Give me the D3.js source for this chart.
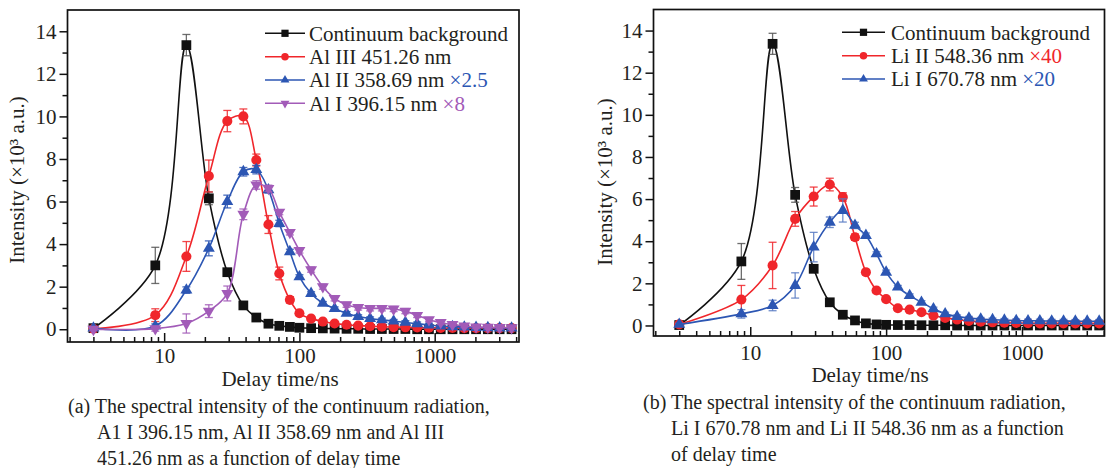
<!DOCTYPE html>
<html>
<head>
<meta charset="utf-8">
<script src="https://cdn.jsdelivr.net/npm/d3@7"></script>
<style>
  body { margin: 0; background: #fff; }
  svg text { font-family: "Liberation Serif", "Times New Roman", serif; fill: #231f20; }
</style>
</head>
<body>
<svg id="chart" width="1106" height="468"></svg>
<script>
// delay times (ns), same for both panels
var delayTimes = [3, 8.6, 14.6, 21.4, 29.3, 38.5, 48, 59, 71, 85, 100, 122, 149, 182, 223, 272, 333, 407, 497, 607, 742, 907, 1108, 1354, 1655, 2022, 2471, 3020, 3700];

// panel (a) : Al target, intensity x10^3 a.u.
var aContinuum    = [0.05, 3.0, 13.35, 6.15, 2.68, 1.12, 0.55, 0.26, 0.16, 0.11, 0.07, 0.05, 0.04, 0.03, 0.02, 0.02, 0.01, 0.01, 0.01, 0.01, 0, 0, 0, 0, 0, 0, 0, 0, 0];
var aContinuumErr = [0.05, 0.85, 0.5, 0.3, 0.12, 0.08, 0.05, 0.04, 0.03, 0.03, 0.02, 0.02, 0.02, 0.02, 0.02, 0.02, 0.02, 0.02, 0.02, 0.02, 0.02, 0.02, 0.02, 0.02, 0.02, 0.02, 0.02, 0.02, 0.02];
var aAl3          = [0.02, 0.66, 3.42, 7.2, 9.78, 10.0, 7.95, 4.92, 2.62, 1.38, 0.75, 0.5, 0.36, 0.27, 0.21, 0.17, 0.14, 0.12, 0.1, 0.09, 0.08, 0.07, 0.06, 0.06, 0.05, 0.05, 0.05, 0.05, 0.05];
var aAl3Err       = [0.05, 0.3, 0.7, 0.75, 0.5, 0.35, 0.28, 0.42, 0.3, 0.15, 0.1, 0.08, 0.07, 0.06, 0.06, 0.06, 0.06, 0.06, 0.06, 0.06, 0.06, 0.06, 0.06, 0.06, 0.06, 0.06, 0.06, 0.06, 0.06];
var aAl2          = [0.05, 0.15, 1.84, 3.8, 6.0, 7.4, 7.5, 6.55, 4.97, 3.64, 2.46, 1.68, 1.22, 0.97, 0.75, 0.6, 0.5, 0.44, 0.38, 0.32, 0.26, 0.2, 0.15, 0.12, 0.1, 0.08, 0.07, 0.06, 0.05];
var aAl2Err       = [0.05, 0.1, 0.15, 0.35, 0.3, 0.2, 0.2, 0.15, 0.15, 0.12, 0.1, 0.08, 0.08, 0.08, 0.08, 0.08, 0.08, 0.08, 0.08, 0.08, 0.08, 0.08, 0.08, 0.08, 0.08, 0.08, 0.08, 0.08, 0.08];
var aAl1          = [0.0, 0.03, 0.27, 0.85, 1.68, 5.4, 6.78, 6.62, 5.5, 4.55, 3.7, 2.8, 2.0, 1.45, 1.15, 1.02, 0.98, 0.98, 0.95, 0.85, 0.65, 0.45, 0.32, 0.22, 0.15, 0.11, 0.09, 0.08, 0.07];
var aAl1Err       = [0.05, 0.12, 0.45, 0.3, 0.35, 0.25, 0.2, 0.15, 0.12, 0.12, 0.12, 0.12, 0.12, 0.12, 0.12, 0.12, 0.12, 0.12, 0.12, 0.12, 0.1, 0.1, 0.1, 0.08, 0.08, 0.08, 0.08, 0.08, 0.08];

// panel (b) : Li target
var bContinuum    = [0.02, 3.04, 13.37, 6.2, 2.69, 1.1, 0.51, 0.24, 0.1, 0.05, 0.03, 0.02, 0.02, 0.01, 0.01, 0.01, 0, 0, 0, 0, 0, 0, 0, 0, 0, 0, 0, 0, 0];
var bContinuumErr = [0.05, 0.85, 0.5, 0.35, 0.1, 0.08, 0.05, 0.04, 0.03, 0.03, 0.02, 0.02, 0.02, 0.02, 0.02, 0.02, 0.02, 0.02, 0.02, 0.02, 0.02, 0.02, 0.02, 0.02, 0.02, 0.02, 0.02, 0.02, 0.02];
var bLi2          = [0.05, 1.23, 2.85, 5.06, 6.12, 6.69, 6.1, 4.19, 2.53, 1.66, 1.25, 0.82, 0.75, 0.63, 0.47, 0.36, 0.28, 0.22, 0.18, 0.15, 0.13, 0.12, 0.11, 0.1, 0.1, 0.1, 0.1, 0.1, 0.1];
var bLi2Err       = [0.05, 0.67, 1.1, 0.35, 0.45, 0.3, 0.2, 0.15, 0.12, 0.1, 0.1, 0.08, 0.08, 0.08, 0.08, 0.08, 0.08, 0.08, 0.08, 0.08, 0.08, 0.08, 0.08, 0.08, 0.08, 0.08, 0.08, 0.08, 0.08];
var bLi1          = [0.05, 0.55, 0.95, 1.9, 3.72, 4.9, 5.46, 4.75, 4.27, 3.4, 2.53, 1.82, 1.42, 1.1, 0.79, 0.55, 0.42, 0.35, 0.3, 0.27, 0.25, 0.23, 0.22, 0.22, 0.21, 0.21, 0.2, 0.2, 0.2];
var bLi1Err       = [0.05, 0.2, 0.25, 0.6, 0.7, 0.25, 0.55, 0.15, 0.12, 0.1, 0.1, 0.08, 0.08, 0.08, 0.08, 0.08, 0.08, 0.08, 0.08, 0.08, 0.08, 0.08, 0.08, 0.08, 0.08, 0.08, 0.08, 0.08, 0.08];

// axis ticks
var yMajorTicks = [0, 2, 4, 6, 8, 10, 12, 14];
var yMinorTicks = [1, 3, 5, 7, 9, 11, 13];
var xMajorTicks = [10, 100, 1000];
var xMinorTicks = [2, 3, 4, 5, 6, 7, 8, 9, 20, 30, 40, 50, 60, 70, 80, 90, 200, 300, 400, 500, 600, 700, 800, 900, 2000, 3000, 4000];

var black = "#111111", red = "#f0262b", blue = "#2c56b3", purple = "#a25bb8";

var svg = d3.select("#chart");

var panelA = {
  x: [67.5, 519], y: [342, 10], xDomain: [1.93, 4200], yDomain: [-0.6, 15],
  tickBaseline: 363, yTitle: [24, 180], xTitle: [280, 386],
  legend: {x1: 265, x2: 305, tx: 309, rows: [33.3, 56.7, 80, 103.3]},
  caption: {x: [68, 97, 97], y: [413, 439, 465], lines: [
    "(a) The spectral intensity of the continuum radiation,",
    "A1 I 396.15 nm, Al II 358.69 nm and Al III",
    "451.26 nm as a function of delay time"]},
  series: [
    {label: "Continuum background", factor: "", values: aContinuum, errors: aContinuumErr, color: black, errColor: "#555", symbol: d3.symbolSquare, size: 95, rot: 0},
    {label: "Al III 451.26 nm", factor: "", values: aAl3, errors: aAl3Err, color: red, errColor: red, symbol: d3.symbolCircle, size: 80, rot: 0},
    {label: "Al II 358.69 nm ", factor: "\u00d72.5", values: aAl2, errors: aAl2Err, color: blue, errColor: blue, symbol: d3.symbolTriangle, size: 62, rot: 0},
    {label: "Al I 396.15 nm ", factor: "\u00d78", values: aAl1, errors: aAl1Err, color: purple, errColor: purple, symbol: d3.symbolTriangle, size: 62, rot: 180}
  ]
};

var panelB = {
  x: [653.5, 1104.5], y: [336, 9.5], xDomain: [1.94, 4050], yDomain: [-0.5, 15],
  tickBaseline: 360, yTitle: [612, 182], xTitle: [870, 382],
  legend: {x1: 842, x2: 885, tx: 891, rows: [32.3, 55.7, 79]},
  caption: {x: [643, 671, 671], y: [409, 435, 461], lines: [
    "(b) The spectral intensity of the continuum radiation,",
    "Li I 670.78 nm and Li II 548.36 nm as a function",
    "of delay time"]},
  series: [
    {label: "Continuum background", factor: "", values: bContinuum, errors: bContinuumErr, color: black, errColor: "#555", symbol: d3.symbolSquare, size: 95, rot: 0},
    {label: "Li II 548.36 nm ", factor: "\u00d740", values: bLi2, errors: bLi2Err, color: red, errColor: red, symbol: d3.symbolCircle, size: 80, rot: 0},
    {label: "Li I 670.78 nm ", factor: "\u00d720", values: bLi1, errors: bLi1Err, color: blue, errColor: "#5a7cc4", symbol: d3.symbolTriangle, size: 62, rot: 0}
  ]
};

var drawPanel = function(p) {
  var xScale = d3.scaleLog().domain(p.xDomain).range(p.x);
  var yScale = d3.scaleLinear().domain(p.yDomain).range(p.y);
  var g = svg.append("g");

  // y axis, ticks point outward
  g.append("g")
   .attr("transform", "translate(" + p.x[0] + ",0)")
   .call(d3.axisLeft(yScale).tickValues(yMajorTicks).tickSize(8).tickPadding(3));
  g.append("g")
   .attr("transform", "translate(" + p.x[0] + ",0)")
   .call(d3.axisLeft(yScale).tickValues(yMinorTicks).tickSize(5).tickFormat(""));

  // x axis, ticks point inward
  var xAxis = g.append("g")
               .attr("transform", "translate(0," + p.y[0] + ")")
               .call(d3.axisBottom(xScale).tickValues(xMajorTicks).tickSize(-9).tickFormat(d3.format("d")));
  g.append("g")
   .attr("transform", "translate(0," + p.y[0] + ")")
   .call(d3.axisBottom(xScale).tickValues(xMinorTicks.filter(function(d) { return d > p.xDomain[0] && d < p.xDomain[1]; }))
                              .tickSize(-5).tickFormat(""));

  g.selectAll(".domain").remove();
  g.selectAll(".tick line").attr("stroke", black).attr("stroke-width", 1.5);
  g.selectAll(".tick text").attr("font-size", 21).attr("fill", "#231f20")
   .attr("font-family", "Liberation Serif, serif");
  xAxis.selectAll(".tick text").attr("dy", null)
       .attr("y", p.tickBaseline - p.y[0]);

  // frame
  g.append("rect")
   .attr("x", p.x[0]).attr("y", p.y[1])
   .attr("width", p.x[1] - p.x[0]).attr("height", p.y[0] - p.y[1])
   .attr("fill", "none").attr("stroke", black).attr("stroke-width", 1.7);

  var line = d3.line()
               .x(function(d) { return xScale(d.t); })
               .y(function(d) { return yScale(d.v); })
               .curve(d3.curveCatmullRom.alpha(0.5));

  p.series.forEach(function(s) {
    var pts = delayTimes.map(function(t, i) { return {t: t, v: s.values[i], e: s.errors[i]}; });
    var sg = g.append("g");

    sg.append("path")
      .datum(pts)
      .attr("d", line)
      .attr("fill", "none")
      .attr("stroke", s.color)
      .attr("stroke-width", 1.6);

    // error bars
    var eb = sg.selectAll(".err").data(pts).enter().append("g");
    eb.append("line")
      .attr("x1", function(d) { return xScale(d.t); })
      .attr("x2", function(d) { return xScale(d.t); })
      .attr("y1", function(d) { return yScale(d.v - d.e); })
      .attr("y2", function(d) { return yScale(d.v + d.e); });
    eb.append("line")
      .attr("x1", function(d) { return xScale(d.t) - 4; })
      .attr("x2", function(d) { return xScale(d.t) + 4; })
      .attr("y1", function(d) { return yScale(d.v + d.e); })
      .attr("y2", function(d) { return yScale(d.v + d.e); });
    eb.append("line")
      .attr("x1", function(d) { return xScale(d.t) - 4; })
      .attr("x2", function(d) { return xScale(d.t) + 4; })
      .attr("y1", function(d) { return yScale(d.v - d.e); })
      .attr("y2", function(d) { return yScale(d.v - d.e); });
    eb.selectAll("line").attr("stroke", s.errColor).attr("stroke-width", 1.3).attr("opacity", 0.85);

    sg.selectAll(".mark").data(pts).enter().append("path")
      .attr("d", d3.symbol().type(s.symbol).size(s.size))
      .attr("transform", function(d) { return "translate(" + xScale(d.t) + "," + yScale(d.v) + ") rotate(" + s.rot + ")"; })
      .attr("fill", s.color);
  });

  // legend
  var lg = g.append("g");
  p.series.forEach(function(s, i) {
    var ly = p.legend.rows[i];
    lg.append("line")
      .attr("x1", p.legend.x1).attr("x2", p.legend.x2)
      .attr("y1", ly).attr("y2", ly)
      .attr("stroke", s.color).attr("stroke-width", 1.6);
    lg.append("path")
      .attr("d", d3.symbol().type(s.symbol).size(s.size * 0.55))
      .attr("transform", "translate(" + ((p.legend.x1 + p.legend.x2) / 2) + "," + ly + ") rotate(" + s.rot + ")")
      .attr("fill", s.color);
    var t = lg.append("text")
              .attr("x", p.legend.tx).attr("y", ly).attr("dy", "0.35em")
              .attr("font-size", 21);
    t.append("tspan").text(s.label);
    if (s.factor) t.append("tspan").style("fill", s.color).text(s.factor);
  });

  // axis titles
  g.append("text")
   .attr("transform", "translate(" + p.yTitle[0] + "," + p.yTitle[1] + ") rotate(-90)")
   .attr("text-anchor", "middle")
   .attr("font-size", 21)
   .text("Intensity (\u00d710\u00b3 a.u.)");
  g.append("text")
   .attr("x", p.xTitle[0]).attr("y", p.xTitle[1])
   .attr("text-anchor", "middle")
   .attr("font-size", 21)
   .text("Delay time/ns");

  // caption
  p.caption.lines.forEach(function(c, i) {
    g.append("text")
     .attr("x", p.caption.x[i]).attr("y", p.caption.y[i])
     .attr("font-size", 20)
     .text(c);
  });
};

drawPanel(panelA);
drawPanel(panelB);
</script>
</body>
</html>
